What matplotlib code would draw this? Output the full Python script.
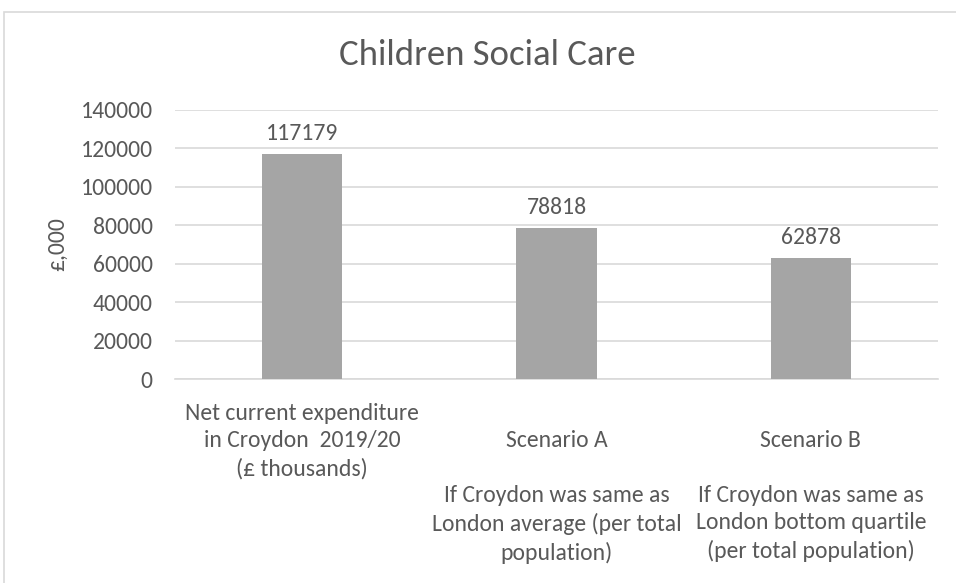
import matplotlib
matplotlib.use("Agg")
import matplotlib.pyplot as plt
from matplotlib.patches import Rectangle

plt.rcParams['font.family'] = ['Carlito', 'DejaVu Sans']

title = "Children Social Care"
y_label = "£,000"
categories = ["Net current expenditure\nin Croydon  2019/20\n(£ thousands)",
              "Scenario A",
              "Scenario B"]
subtitles = ["",
             "If Croydon was same as\nLondon average (per total\npopulation)",
             "If Croydon was same as\nLondon bottom quartile\n(per total population)"]
values = [117179, 78818, 62878]
y_ticks = [0, 20000, 40000, 60000, 80000, 100000, 120000, 140000]

text_color = "#595959"
grid_color = "#d9d9d9"
bar_color = "#a5a5a5"
body_size = 17
title_size = 26.5

fig = plt.figure(figsize=(9.56, 5.83), dpi=100)
ax = fig.add_axes([175 / 956, 1 - 379 / 583, (938 - 175) / 956, (379 - 110) / 583])

# chart frame
fig.patches.append(Rectangle((4 / 956, -0.1), 1.2, 1.1 - 12 / 583,
                             transform=fig.transFigure, fill=False,
                             edgecolor=grid_color, lw=1.2))

xs = list(range(len(values)))
ax.bar(xs, values, width=0.315, color=bar_color, zorder=3)
for x, v in zip(xs, values):
    ax.annotate(f"{v}", (x, v), xytext=(0, 7), textcoords="offset points",
                ha="center", va="bottom", fontsize=body_size, color=text_color)

ax.set_xlim(-0.5, len(values) - 0.5)
ax.set_ylim(0, 140000)
ax.set_yticks(y_ticks)
ax.set_yticklabels([str(t) for t in y_ticks])
ax.yaxis.grid(True, color=grid_color, lw=1.2)
ax.set_axisbelow(True)
for s in ["top", "right", "left"]:
    ax.spines[s].set_visible(False)
ax.spines["bottom"].set_color(grid_color)
ax.spines["bottom"].set_linewidth(1.2)
ax.tick_params(axis="y", length=0, pad=16, labelsize=body_size, labelcolor=text_color)
ax.tick_params(axis="x", length=0, pad=17, labelsize=body_size, labelcolor=text_color)

# scenario names sit on the second line, their descriptions one blank line below
labels = []
for c, s in zip(categories, subtitles):
    labels.append("\n" + c + "\n\n" + s if s else c)
ax.set_xticks(xs)
ax.set_xticklabels(labels, linespacing=1.38, ha="center", va="top")

ax.set_ylabel(y_label, fontsize=body_size, color=text_color, labelpad=9)
fig.text(487 / 956, 1 - 55 / 583, title, ha="center", va="center",
         fontsize=title_size, color=text_color)

fig.savefig("out.png", dpi=100)
